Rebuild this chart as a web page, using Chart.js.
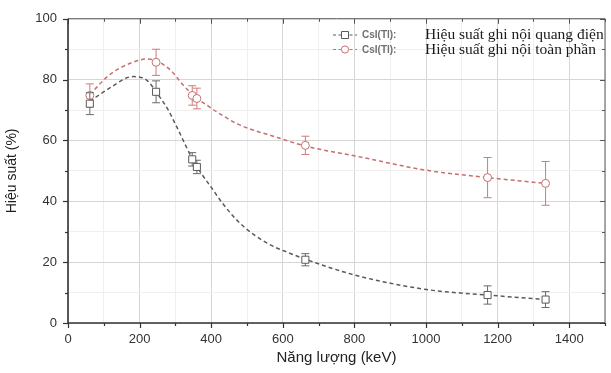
<!DOCTYPE html>
<html>
<head>
<meta charset="utf-8">
<script src="https://cdn.jsdelivr.net/npm/chart.js@4.4.1/dist/chart.umd.min.js"></script>
<style>
  html, body { margin: 0; padding: 0; background: #fff; }
  #wrap { width: 611px; height: 373px; }
</style>
</head>
<body>
<div id="wrap"><canvas id="effChart"></canvas></div>
<script>
// measured points (keV)
const energies = [61, 246, 347, 360, 663, 1172, 1334];
const photoEff = [72.1, 76.0, 53.8, 51.3, 20.8, 9.2, 7.7];
const photoErr = [3.6, 3.6, 2.2, 2.2, 2.0, 3.0, 2.6];
const totalEff = [74.8, 85.7, 74.8, 73.8, 58.4, 47.8, 45.9];
const totalErr = [3.8, 4.3, 3.2, 3.4, 3.0, 6.6, 7.2];

// fitted curves
const photoFitX = [61, 116, 181, 218, 255, 282, 296, 310, 330, 350, 374, 402, 430, 476, 522, 568, 614, 660, 803, 1002, 1172, 1334];
const photoFitY = [72.9, 77.2, 81.0, 80.0, 74.5, 69.6, 66.3, 63.0, 58.0, 53.5, 48.9, 44.3, 39.6, 33.3, 28.8, 25.5, 23.2, 21.1, 15.7, 11.0, 9.2, 7.7];
const totalFitX = [61, 116, 181, 222, 282, 319, 347, 393, 421, 476, 587, 662, 803, 1002, 1172, 1334];
const totalFitY = [75.1, 81.6, 85.7, 86.8, 83.6, 78.6, 75.2, 71.2, 69.0, 65.3, 60.9, 58.2, 54.9, 50.2, 47.8, 45.9];

const detectorLabel = "CsI(Tl):";
const seriesLabels = ["Hiệu suất ghi nội quang điện", "Hiệu suất ghi nội toàn phần"];
const xTitle = "Năng lượng (keV)";
const yTitle = "Hiệu suất (%)";

const GRAY = "#5a5a5a";
const RED = "#c86e6e";

const toPts = (xs, ys) => xs.map((x, i) => ({ x: x, y: ys[i] }));

// error bars, drawn right before the marker dataset
const errorBars = {
    id: "errorBars",
    beforeDatasetDraw(chart, args) {
        const ds = chart.data.datasets[args.index];
        if (!ds.errors) return;
        const { ctx, scales: { x, y } } = chart;
        ctx.save();
        ctx.strokeStyle = ds.errColor;
        ctx.lineWidth = 1;
        ds.data.forEach((p, i) => {
            const px = x.getPixelForValue(p.x);
            const top = y.getPixelForValue(p.y + ds.errors[i]);
            const bot = y.getPixelForValue(p.y - ds.errors[i]);
            ctx.beginPath();
            ctx.moveTo(px, top); ctx.lineTo(px, bot);
            ctx.moveTo(px - 4, top); ctx.lineTo(px + 4, top);
            ctx.moveTo(px - 4, bot); ctx.lineTo(px + 4, bot);
            ctx.stroke();
        });
        ctx.restore();
    }
};

// Origin style frame with ticks
const frame = {
    id: "frame",
    afterDatasetsDraw(chart) {
        const { ctx, chartArea: { left, right, top, bottom }, scales: { x, y } } = chart;
        const line = (a, b, c, d) => { ctx.beginPath(); ctx.moveTo(a, b); ctx.lineTo(c, d); ctx.stroke(); };
        ctx.save();
        ctx.strokeStyle = "#555";
        ctx.lineWidth = 1;
        line(left, top, right, top);
        line(right, top, right, bottom);
        x.ticks.forEach(t => {
            const px = Math.round(x.getPixelForValue(t.value)) + 0.5;
            const len = t.value % 200 === 0 ? 5 : 3;
            line(px, top, px, top + len);
        });
        y.ticks.forEach(t => {
            const py = Math.round(y.getPixelForValue(t.value)) + 0.5;
            const len = t.value % 20 === 0 ? 5 : 3;
            line(right, py, right - len, py);
        });
        ctx.strokeStyle = "#333";
        ctx.lineWidth = 1.6;
        line(left, top, left, bottom);
        line(left, bottom, right, bottom);
        ctx.lineWidth = 1.2;
        x.ticks.forEach(t => {
            const px = Math.round(x.getPixelForValue(t.value)) + 0.5;
            const len = t.value % 200 === 0 ? 5 : 3;
            line(px, bottom, px, bottom + len);
        });
        y.ticks.forEach(t => {
            const py = Math.round(y.getPixelForValue(t.value)) + 0.5;
            const len = t.value % 20 === 0 ? 5 : 3;
            line(left, py, left - len, py);
        });
        ctx.restore();
    }
};

// legend: sample + sans label + serif text
const legendBox = {
    id: "legendBox",
    afterDraw(chart) {
        const ctx = chart.ctx;
        const rows = [
            { color: GRAY, style: "rect", y: 35 },
            { color: RED, style: "circle", y: 49.5 }
        ];
        ctx.save();
        rows.forEach((r, i) => {
            ctx.strokeStyle = r.color;
            ctx.lineWidth = 1.2;
            ctx.setLineDash([3, 2.5]);
            ctx.beginPath(); ctx.moveTo(333, r.y); ctx.lineTo(357, r.y); ctx.stroke();
            ctx.setLineDash([]);
            ctx.fillStyle = "#fff";
            ctx.lineWidth = 1;
            ctx.beginPath();
            if (r.style === "rect") ctx.rect(341.5, r.y - 3.5, 7, 7);
            else ctx.arc(345, r.y, 3.6, 0, Math.PI * 2);
            ctx.fill(); ctx.stroke();
            ctx.textBaseline = "middle";
            ctx.fillStyle = "#707070";
            ctx.font = "bold 10px 'Liberation Sans', Arial, sans-serif";
            ctx.fillText(detectorLabel, 362, r.y + 0.5);
            ctx.fillStyle = "#1a1a1a";
            ctx.font = "15.5px 'Liberation Serif', 'Times New Roman', serif";
            ctx.fillText(seriesLabels[i], 425, r.y);
        });
        ctx.restore();
    }
};

new Chart(document.getElementById("effChart"), {
    type: "scatter",
    data: {
        datasets: [
            {
                label: seriesLabels[0],
                data: toPts(energies, photoEff),
                errors: photoErr,
                errColor: "#6a6a6a",
                showLine: false,
                pointStyle: "rect",
                pointRadius: 5,
                borderColor: GRAY,
                backgroundColor: "#fff",
                borderWidth: 1
            },
            {
                label: seriesLabels[1],
                data: toPts(energies, totalEff),
                errors: totalErr,
                errColor: "#d07a7a",
                showLine: false,
                pointStyle: "circle",
                pointRadius: 4,
                borderColor: RED,
                backgroundColor: "#fff",
                borderWidth: 1
            },
            {
                label: "fit1",
                data: toPts(photoFitX, photoFitY),
                showLine: true,
                pointRadius: 0,
                borderColor: GRAY,
                borderWidth: 1.5,
                borderDash: [4, 3],
                cubicInterpolationMode: "monotone"
            },
            {
                label: "fit2",
                data: toPts(totalFitX, totalFitY),
                showLine: true,
                pointRadius: 0,
                borderColor: RED,
                borderWidth: 1.5,
                borderDash: [4, 3],
                cubicInterpolationMode: "monotone"
            }
        ]
    },
    options: {
        responsive: true,
        maintainAspectRatio: false,
        animation: false,
        layout: { padding: { top: 17, right: 2, left: 0, bottom: 0 } },
        plugins: {
            legend: { display: false },
            tooltip: { enabled: false }
        },
        scales: {
            x: {
                type: "linear",
                min: 0,
                max: 1500,
                afterFit: s => { s.height = 50; s.paddingLeft = 0; s.paddingRight = 0; },
                ticks: {
                    stepSize: 100,
                    autoSkip: false,
                    maxRotation: 0,
                    padding: 9,
                    color: "#333",
                    font: { family: "'Liberation Sans', Arial, sans-serif", size: 13 },
                    callback: v => (v % 200 === 0 && v <= 1400 ? v : "")
                },
                grid: {
                    drawTicks: false,
                    color: c => (c.tick && c.tick.value % 200 === 0 ? "#d6d6d6" : "#efefef")
                },
                border: { display: false },
                title: {
                    display: true,
                    text: xTitle,
                    color: "#222",
                    font: { family: "'Liberation Sans', Arial, sans-serif", size: 15 },
                    padding: { top: 0, bottom: 6 }
                }
            },
            y: {
                min: 0,
                max: 100,
                afterFit: s => { s.width = 68; },
                ticks: {
                    stepSize: 10,
                    autoSkip: false,
                    padding: 11,
                    color: "#333",
                    font: { family: "'Liberation Sans', Arial, sans-serif", size: 13 },
                    callback: v => (v % 20 === 0 ? v : "")
                },
                grid: {
                    drawTicks: false,
                    color: c => (c.tick && c.tick.value % 20 === 0 ? "#d6d6d6" : "#efefef")
                },
                border: { display: false },
                title: {
                    display: true,
                    text: yTitle,
                    color: "#222",
                    font: { family: "'Liberation Sans', Arial, sans-serif", size: 14 },
                    padding: { top: 4, bottom: 0 }
                }
            }
        }
    },
    plugins: [errorBars, frame, legendBox]
});
</script>
</body>
</html>
